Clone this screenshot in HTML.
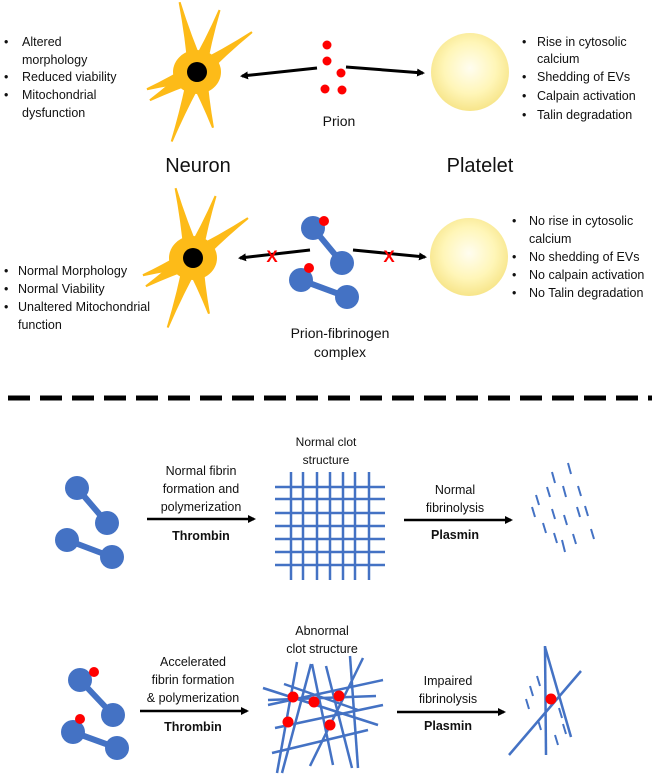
<!DOCTYPE html>
<html><head><meta charset="utf-8"><style>
html,body{margin:0;padding:0;background:#fff;width:657px;height:776px;overflow:hidden}
svg{display:block}
text{font-family:"Liberation Sans","DejaVu Sans",sans-serif;fill:#111}
.s{font-size:12.5px}
.c{text-anchor:middle}
.b{font-weight:bold}
</style></head><body>
<svg width="657" height="776" viewBox="0 0 657 776" xmlns="http://www.w3.org/2000/svg">
<defs>
<radialGradient id="pg" cx="50%" cy="45%" r="55%">
<stop offset="0" stop-color="#fffdf0"/><stop offset="0.6" stop-color="#fff6b8"/><stop offset="1" stop-color="#f7e58a"/>
</radialGradient>
<marker id="ah" markerWidth="8" markerHeight="8" refX="6" refY="4" orient="auto" markerUnits="userSpaceOnUse"><path d="M0,0 L8,4 L0,8 z" fill="#000"/></marker>
<g id="neuron" fill="#fdbb18">
<ellipse cx="0" cy="0" rx="24" ry="22"/>
<path transform="rotate(-14)" d="M-9 0 Q-3 -36 -1 -72 L1 -72 Q3 -36 9 0Z"/>
<path transform="rotate(20)" d="M-9 0 Q-3 -33 -1 -66 L1 -66 Q3 -33 9 0Z"/>
<path transform="rotate(54)" d="M-9 0 Q-3 -34 -1 -68 L1 -68 Q3 -34 9 0Z"/>
<path transform="rotate(-109)" d="M-10 0 Q-4 -27 -1 -53 L1 -53 Q4 -27 10 0Z"/>
<path transform="rotate(-121)" d="M-10 0 Q-4 -28 -1 -55 L1 -55 Q4 -28 10 0Z"/>
<path transform="rotate(-160)" d="M-9 0 Q-3 -37 -1 -74 L1 -74 Q3 -37 9 0Z"/>
<path transform="rotate(164)" d="M-10 0 Q-4 -29 -1 -58 L1 -58 Q4 -29 10 0Z"/>
<circle cx="0" cy="0" r="10" fill="#000"/>
</g>
</defs>

<!-- top neuron -->
<use href="#neuron" x="197" y="72"/>
<g class="s">
<text x="4" y="46">•</text><text x="22" y="46">Altered</text>
<text x="22" y="64">morphology</text>
<text x="4" y="81">•</text><text x="22" y="81">Reduced viability</text>
<text x="4" y="99">•</text><text x="22" y="99">Mitochondrial</text>
<text x="22" y="117">dysfunction</text>
</g>
<line x1="317" y1="68" x2="242" y2="76" stroke="#000" stroke-width="3" marker-end="url(#ah)"/>
<line x1="346" y1="67" x2="423" y2="73" stroke="#000" stroke-width="3" marker-end="url(#ah)"/>
<g fill="#f00">
<circle cx="327" cy="45" r="4.5"/><circle cx="327" cy="61" r="4.5"/><circle cx="341" cy="73" r="4.5"/><circle cx="325" cy="89" r="4.5"/><circle cx="342" cy="90" r="4.5"/>
</g>
<text x="339" y="126" class="c" style="font-size:14px">Prion</text>
<circle cx="470" cy="72" r="39" fill="url(#pg)"/>
<g class="s">
<text x="522" y="46">•</text><text x="537" y="46">Rise in cytosolic</text>
<text x="537" y="63">calcium</text>
<text x="522" y="81">•</text><text x="537" y="81">Shedding of EVs</text>
<text x="522" y="100">•</text><text x="537" y="100">Calpain activation</text>
<text x="522" y="119">•</text><text x="537" y="119">Talin degradation</text>
</g>
<text x="198" y="172" class="c" style="font-size:20px">Neuron</text>
<text x="480" y="172" class="c" style="font-size:20px">Platelet</text>

<!-- second row -->
<use href="#neuron" x="193" y="258"/>
<g class="s">
<text x="4" y="275">•</text><text x="18" y="275">Normal Morphology</text>
<text x="4" y="293">•</text><text x="18" y="293">Normal Viability</text>
<text x="4" y="311">•</text><text x="18" y="311">Unaltered Mitochondrial</text>
<text x="18" y="329">function</text>
</g>
<line x1="310" y1="250" x2="240" y2="258" stroke="#000" stroke-width="3" marker-end="url(#ah)"/>
<line x1="353" y1="250" x2="425" y2="257" stroke="#000" stroke-width="3" marker-end="url(#ah)"/>
<text x="272" y="262" class="c b" style="font-size:17px;fill:#f00">X</text>
<text x="389" y="262" class="c b" style="font-size:17px;fill:#f00">X</text>
<g stroke="#4472c4" stroke-width="6" fill="#4472c4">
<line x1="313" y1="228" x2="342" y2="263"/><line x1="301" y1="280" x2="347" y2="297"/>
<circle cx="313" cy="228" r="12" stroke="none"/><circle cx="342" cy="263" r="12" stroke="none"/>
<circle cx="301" cy="280" r="12" stroke="none"/><circle cx="347" cy="297" r="12" stroke="none"/>
</g>
<circle cx="324" cy="221" r="5" fill="#f00"/><circle cx="309" cy="268" r="5" fill="#f00"/>
<text x="340" y="338" class="c" style="font-size:14px">Prion-fibrinogen</text>
<text x="340" y="357" class="c" style="font-size:14px">complex</text>
<circle cx="469" cy="257" r="39" fill="url(#pg)"/>
<g class="s">
<text x="512" y="225">•</text><text x="529" y="225">No rise in cytosolic</text>
<text x="529" y="243">calcium</text>
<text x="512" y="261">•</text><text x="529" y="261">No shedding of EVs</text>
<text x="512" y="279">•</text><text x="529" y="279">No calpain activation</text>
<text x="512" y="297">•</text><text x="529" y="297">No Talin degradation</text>
</g>

<!-- dashed line -->
<line x1="8" y1="398" x2="652" y2="398" stroke="#000" stroke-width="5" stroke-dasharray="22,10"/>

<!-- normal clot row -->
<g stroke="#4472c4" stroke-width="6" fill="#4472c4">
<line x1="77" y1="488" x2="107" y2="523"/><line x1="67" y1="540" x2="112" y2="557"/>
<circle cx="77" cy="488" r="12" stroke="none"/><circle cx="107" cy="523" r="12" stroke="none"/>
<circle cx="67" cy="540" r="12" stroke="none"/><circle cx="112" cy="557" r="12" stroke="none"/>
</g>
<g class="c s">
<text x="201" y="475">Normal fibrin</text>
<text x="201" y="493">formation and</text>
<text x="201" y="511">polymerization</text>
<text x="201" y="540" class="b">Thrombin</text>
<text x="326" y="446" style="font-size:12px">Normal clot</text>
<text x="326" y="464" style="font-size:12px">structure</text>
<text x="455" y="494">Normal</text>
<text x="455" y="512">fibrinolysis</text>
<text x="455" y="539" class="b">Plasmin</text>
</g>
<line x1="147" y1="519" x2="254" y2="519" stroke="#000" stroke-width="2.5" marker-end="url(#ah)"/>
<line x1="404" y1="520" x2="511" y2="520" stroke="#000" stroke-width="2.5" marker-end="url(#ah)"/>
<g stroke="#4472c4" stroke-width="2.5">
<line x1="291" y1="472" x2="291" y2="580"/><line x1="303" y1="472" x2="303" y2="580"/><line x1="317" y1="472" x2="317" y2="580"/><line x1="330" y1="472" x2="330" y2="580"/><line x1="343" y1="472" x2="343" y2="580"/><line x1="355" y1="472" x2="355" y2="580"/><line x1="369" y1="472" x2="369" y2="580"/>
<line x1="275" y1="487" x2="385" y2="487"/><line x1="275" y1="499" x2="385" y2="499"/><line x1="275" y1="513" x2="385" y2="513"/><line x1="275" y1="526" x2="385" y2="526"/><line x1="275" y1="539" x2="385" y2="539"/><line x1="275" y1="552" x2="385" y2="552"/><line x1="275" y1="565" x2="385" y2="565"/>
</g>
<g stroke="#4472c4" stroke-width="2">
<line x1="568" y1="463" x2="571" y2="474"/><line x1="552" y1="472" x2="555" y2="483"/><line x1="547" y1="487" x2="550" y2="497"/><line x1="563" y1="486" x2="566" y2="497"/><line x1="578" y1="486" x2="581" y2="496"/><line x1="536" y1="495" x2="539" y2="505"/>
<line x1="532" y1="507" x2="535" y2="517"/><line x1="552" y1="509" x2="555" y2="519"/><line x1="564" y1="515" x2="567" y2="525"/><line x1="577" y1="507" x2="580" y2="517"/><line x1="585" y1="506" x2="588" y2="516"/>
<line x1="543" y1="523" x2="546" y2="533"/><line x1="554" y1="533" x2="557" y2="543"/><line x1="562" y1="540" x2="565" y2="552"/><line x1="573" y1="534" x2="576" y2="544"/><line x1="591" y1="529" x2="594" y2="539"/>
</g>

<!-- abnormal row -->
<g stroke="#4472c4" stroke-width="6" fill="#4472c4">
<line x1="80" y1="680" x2="113" y2="715"/><line x1="73" y1="732" x2="117" y2="748"/>
<circle cx="80" cy="680" r="12" stroke="none"/><circle cx="113" cy="715" r="12" stroke="none"/>
<circle cx="73" cy="732" r="12" stroke="none"/><circle cx="117" cy="748" r="12" stroke="none"/>
</g>
<circle cx="94" cy="672" r="5" fill="#f00"/><circle cx="80" cy="719" r="5" fill="#f00"/>
<g class="c s">
<text x="193" y="666">Accelerated</text>
<text x="193" y="684">fibrin formation</text>
<text x="193" y="702">&amp; polymerization</text>
<text x="193" y="731" class="b">Thrombin</text>
<text x="322" y="635">Abnormal</text>
<text x="322" y="653">clot structure</text>
<text x="448" y="685">Impaired</text>
<text x="448" y="703">fibrinolysis</text>
<text x="448" y="730" class="b">Plasmin</text>
</g>
<line x1="140" y1="711" x2="247" y2="711" stroke="#000" stroke-width="2.5" marker-end="url(#ah)"/>
<line x1="397" y1="712" x2="504" y2="712" stroke="#000" stroke-width="2.5" marker-end="url(#ah)"/>
<g stroke="#4472c4" stroke-width="2.5">
<line x1="263" y1="688" x2="378" y2="725"/><line x1="268" y1="705" x2="383" y2="680"/><line x1="275" y1="728" x2="383" y2="705"/>
<line x1="272" y1="753" x2="368" y2="730"/><line x1="297" y1="662" x2="277" y2="773"/><line x1="311" y1="664" x2="282" y2="773"/>
<line x1="312" y1="664" x2="333" y2="765"/><line x1="326" y1="666" x2="352" y2="768"/><line x1="350" y1="656" x2="358" y2="768"/>
<line x1="363" y1="658" x2="310" y2="766"/><line x1="268" y1="700" x2="376" y2="696"/><line x1="284" y1="684" x2="358" y2="710"/>
</g>
<g fill="#f00">
<circle cx="293" cy="697" r="5.5"/><circle cx="314" cy="702" r="5.5"/><circle cx="339" cy="696" r="5.5"/><circle cx="288" cy="722" r="5.5"/><circle cx="330" cy="725" r="5.5"/>
</g>
<g stroke="#4472c4" stroke-width="2.5">
<line x1="545" y1="646" x2="546" y2="755"/><line x1="545" y1="647" x2="571" y2="737"/><line x1="509" y1="755" x2="581" y2="671"/>
</g>
<g stroke="#4472c4" stroke-width="2">
<line x1="530" y1="686" x2="533" y2="696"/><line x1="526" y1="699" x2="529" y2="709"/><line x1="537" y1="676" x2="540" y2="686"/><line x1="559" y1="708" x2="562" y2="718"/><line x1="563" y1="724" x2="566" y2="734"/><line x1="538" y1="720" x2="541" y2="730"/><line x1="555" y1="735" x2="558" y2="745"/>
</g>
<circle cx="551" cy="699" r="5.5" fill="#f00"/>
</svg>
</body></html>
